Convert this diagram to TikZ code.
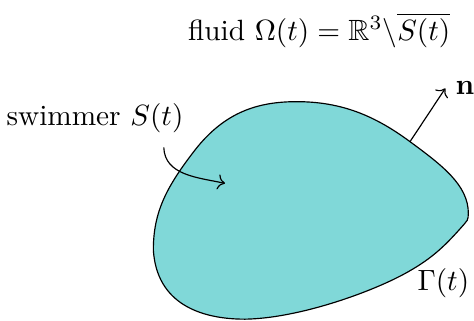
\documentclass[tikz,border=0pt]{standalone}
\usepackage{amsmath,amssymb,bm}
\usepackage{tikz}
\usetikzlibrary{arrows.meta,calc,positioning}
\definecolor{SwimCyan}{RGB}{128,216,216}

\begin{document}
\begin{tikzpicture}
      \useasboundingbox (0,0) rectangle (5.688,3.84);
      \draw[fill=SwimCyan] (3.56,2.62)
        .. controls (4.10,2.62) and (4.50,2.45) .. (4.92,2.14)
        .. controls (5.30,1.86) and (5.62,1.62) .. (5.62,1.28)
        .. controls (5.62,1.20) and (5.60,1.18) .. (5.57,1.15)
        .. controls (5.35,0.90) and (5.20,0.75) .. (4.90,0.58)
        .. controls (4.50,0.35) and (3.60,0.02) .. (2.94,0.01)
        .. controls (2.40,0.01) and (1.88,0.20) .. (1.84,0.84)
        .. controls (1.84,1.30) and (2.00,1.60) .. (2.34,2.04)
        .. controls (2.70,2.50) and (3.10,2.62) .. cycle;
      \coordinate (inside) at (2.70,1.64);
      \coordinate (nfoot) at (4.92,2.14);
      \node (fluid) at (3.83,3.48) {fluid $\Omega(t)=\mathbb{R}^3\backslash\overline{S(t)}$};
      \node (swim) at (1.14,2.42) {swimmer $S(t)$};
      \node (nlab) at (5.58,2.78) {$\mathbf n$};
      \node (gam) at (5.32,0.44) {$\Gamma(t)$};
      \draw[->] (nfoot) -- (nlab.west);
      \draw[->] ([shift={(-0.36,-0.05)}]swim.south east)
        to[out=-88,in=168] (inside);
    \end{tikzpicture}
\end{document}
